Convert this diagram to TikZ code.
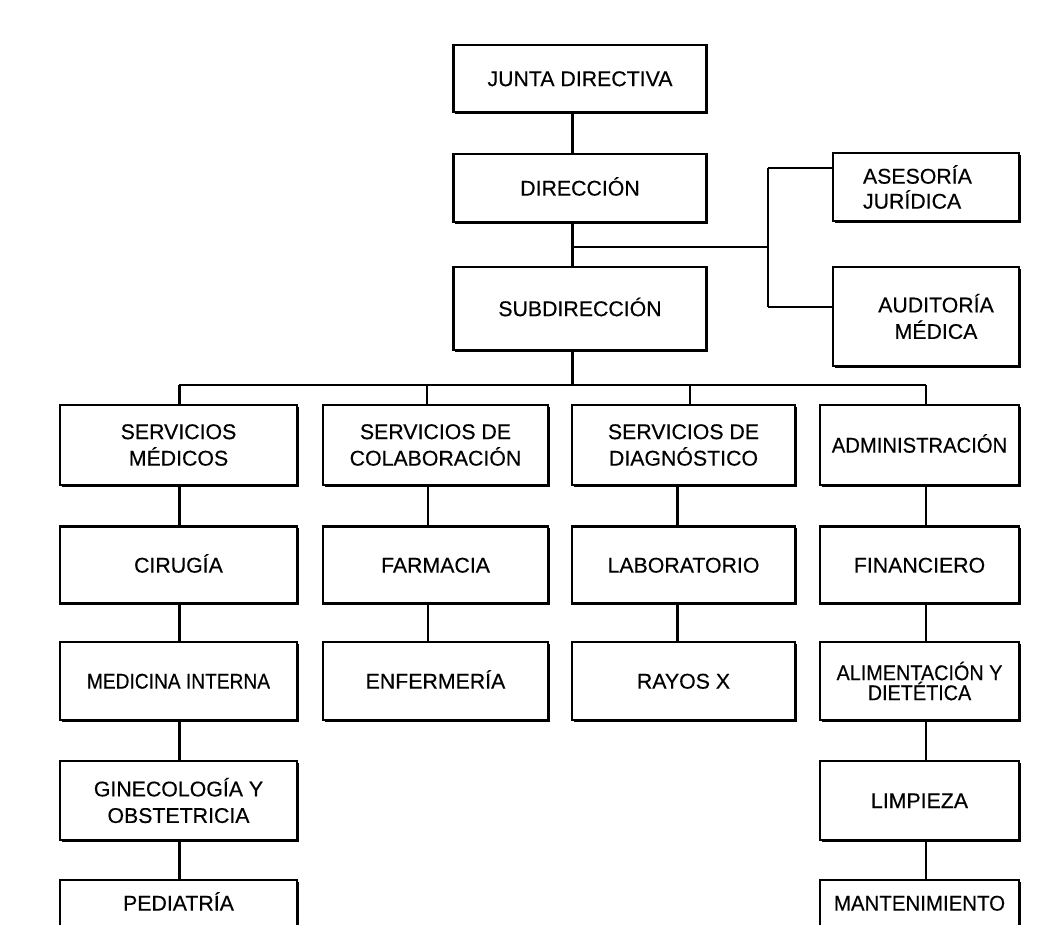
\documentclass[tikz,border=0pt]{standalone}
\usepackage{fontspec}
\setmainfont{Liberation Sans}
\newfontfamily\boxfont[FakeBold=0.35]{Liberation Sans}
\usetikzlibrary{shadows}
\begin{document}
\begin{tikzpicture}[x=1pt,y=-1pt,
  orgbox/.style={draw=black, line width=2.2pt, fill=white, rectangle,
    inner sep=0pt, align=center, font=\boxfont\fontsize{21.3}{26.5}\selectfont,
    drop shadow={shadow xshift=1.6pt, shadow yshift=-1.6pt, fill=black, opacity=1}},
  oneline/.style={text height=15.2pt, text depth=0pt},
  link/.style={draw=black, line width=3pt},
  thinlink/.style={draw=black, line width=1.6pt},
  midlink/.style={draw=black, line width=2.3pt}]
\useasboundingbox (0,0) rectangle (1056,924);
\clip (0,0) rectangle (1056,924);
\fill[white] (0,0) rectangle (1056,924);

% top of the hierarchy
\node[orgbox, oneline, minimum width=253pt, minimum height=67pt] (jd) at (580,78.5) {JUNTA DIRECTIVA};
\node[orgbox, oneline, minimum width=253pt, minimum height=68pt] (dir) at (580,188) {DIRECCIÓN};
\node[orgbox, oneline, minimum width=253pt, minimum height=83pt] (sub) at (580,308.5) {SUBDIRECCIÓN};

% staff units
\node[orgbox, minimum width=186pt, minimum height=68pt, text width=126pt, inner xsep=30pt, align=left,
  font=\boxfont\fontsize{21.3}{25}\selectfont] (ase) at (926,187) {ASESORÍA\\JURÍDICA};
\node[orgbox, minimum width=186pt, minimum height=99pt] (aud) at (926,316.5)
  {\hspace*{20pt}AUDITORÍA\\\hspace*{20pt}MÉDICA};

% second level
\node[orgbox, minimum width=237pt, minimum height=80pt] (sm) at (178.5,445) {SERVICIOS\\MÉDICOS};
\node[orgbox, minimum width=225pt, minimum height=80pt] (sc) at (435.5,445) {SERVICIOS DE\\COLABORACIÓN};
\node[orgbox, minimum width=223pt, minimum height=80pt] (sd) at (683.5,445) {SERVICIOS DE\\DIAGNÓSTICO};
\node[orgbox, oneline, minimum width=199pt, minimum height=80pt] (ad) at (919.5,445) {\scalebox{0.95}[1]{ADMINISTRACIÓN}};

% medical services
\node[orgbox, oneline, minimum width=237pt, minimum height=77pt] (cir) at (178.5,565) {CIRUGÍA};
\node[orgbox, oneline, minimum width=237pt, minimum height=78pt] (mi) at (178.5,681) {\scalebox{0.9}[1]{MEDICINA INTERNA}};
\node[orgbox, minimum width=237pt, minimum height=79pt] (gin) at (178.5,800.5) {GINECOLOGÍA Y\\OBSTETRICIA};
\node[orgbox, oneline, minimum width=237pt, minimum height=46pt] (ped) at (178.5,903) {PEDIATRÍA};

% collaboration services
\node[orgbox, oneline, minimum width=225pt, minimum height=77pt] (far) at (435.5,565) {FARMACIA};
\node[orgbox, oneline, minimum width=225pt, minimum height=78pt] (enf) at (435.5,681) {ENFERMERÍA};

% diagnostic services
\node[orgbox, oneline, minimum width=223pt, minimum height=77pt] (lab) at (683.5,565) {LABORATORIO};
\node[orgbox, oneline, minimum width=223pt, minimum height=78pt] (ray) at (683.5,681) {RAYOS X};

% administration
\node[orgbox, oneline, minimum width=199pt, minimum height=77pt] (fin) at (919.5,565) {FINANCIERO};
\node[orgbox, minimum width=199pt, minimum height=78pt, font=\boxfont\fontsize{21.3}{20}\selectfont] (ali) at (919.5,681)
  {\scalebox{0.93}[1]{ALIMENTACIÓN Y}\\\scalebox{0.93}[1]{DIETÉTICA}};
\node[orgbox, oneline, minimum width=199pt, minimum height=79pt] (lim) at (919.5,800.5) {LIMPIEZA};
\node[orgbox, oneline, minimum width=199pt, minimum height=46pt] (man) at (919.5,903) {\scalebox{0.96}[1]{MANTENIMIENTO}};

% junction points
\coordinate (spine) at (572,247);
\coordinate (staffbar) at (768,247);
\coordinate (bus) at (572,385);
\coordinate (busL) at (179,385);
\coordinate (busR) at (926,385);

% main spine
\draw[link] (jd.south -| spine) -- (dir.north -| spine);
\draw[link] (dir.south -| spine) -- (sub.north -| spine);
\draw[midlink] (spine) -- (staffbar);
\draw[midlink] (staffbar |- 0,168) -- (staffbar |- 0,307);
\draw[midlink] (staffbar |- 0,168) -- (ase.west |- 0,168);
\draw[midlink] (staffbar |- 0,307) -- (aud.west |- 0,307);

% bus to second level
\draw[link] (sub.south -| bus) -- (bus);
\draw[midlink] (busL) -- (busR);
\draw[link] (busL) -- (sm.north -| busL);
\draw[thinlink] (427,385) -- (sc.north -| 427,0);
\draw[midlink] (690,385) -- (sd.north -| 690,0);
\draw[midlink] (busR) -- (ad.north -| busR);

% column connectors
\draw[link] (sm.south -| busL) -- (cir.north -| busL);
\draw[link] (cir.south -| busL) -- (mi.north -| busL);
\draw[link] (mi.south -| busL) -- (gin.north -| busL);
\draw[link] (gin.south -| busL) -- (ped.north -| busL);

\draw[thinlink] (sc.south -| 428,0) -- (far.north -| 428,0);
\draw[thinlink] (far.south -| 428,0) -- (enf.north -| 428,0);

\draw[link] (sd.south -| 677,0) -- (lab.north -| 677,0);
\draw[link] (lab.south -| 677,0) -- (ray.north -| 677,0);

\draw[midlink] (ad.south -| busR) -- (fin.north -| busR);
\draw[midlink] (fin.south -| busR) -- (ali.north -| busR);
\draw[midlink] (ali.south -| busR) -- (lim.north -| busR);
\draw[midlink] (lim.south -| busR) -- (man.north -| busR);
\end{tikzpicture}
\end{document}
